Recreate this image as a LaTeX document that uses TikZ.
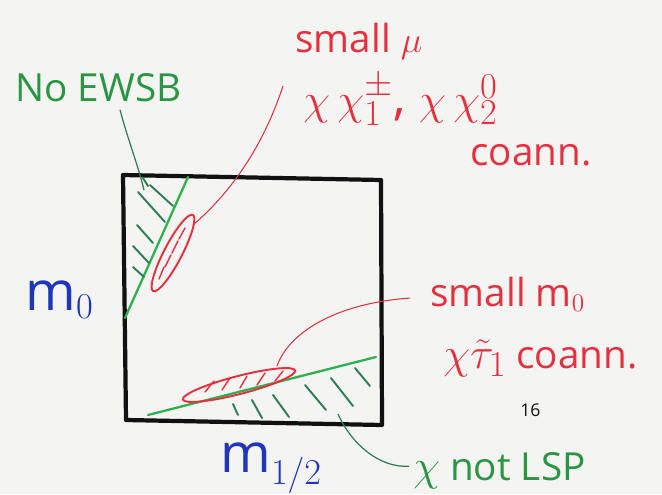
\documentclass[tikz,border=0pt]{standalone}
\usepackage{fontspec}
\setmainfont{Open Sans}
\usetikzlibrary{positioning,calc}
\definecolor{skPaper}{HTML}{F4F4F2}
\definecolor{skInk}{HTML}{111111}
\definecolor{skRed}{HTML}{E5303F}
\definecolor{skGreen}{HTML}{2FB04E}
\definecolor{skHatch}{HTML}{2E7D55}
\definecolor{skBlue}{HTML}{2036B8}

\begin{document}
\begin{tikzpicture}[
  x=0.02cm, y=-0.02cm,
  redlbl/.style={font=\fontsize{22}{26}\selectfont, text=skRed, inner sep=0pt, anchor=base west},
  greenlbl/.style={font=\fontsize{22}{26}\selectfont, text=skGreen!85!black, inner sep=0pt, anchor=base west},
  axlbl/.style={font=\fontsize{31}{34}\selectfont, text=skBlue, inner sep=0pt, anchor=base west},
  frame/.style={draw=skInk, line width=2.4pt, line join=round},
  bound/.style={draw=skGreen, line width=1.3pt, line cap=round},
  hatch/.style={draw=skHatch, line width=1.1pt, line cap=round},
  blob/.style={draw=skRed, line width=1.1pt},
  scrib/.style={draw=skRed, line width=0.8pt, line cap=round},
  redlead/.style={draw=skRed, line width=0.6pt},
  greenlead/.style={draw=skHatch, line width=0.7pt},
]
\fill[skPaper] (0,0) rectangle (662,494);
\useasboundingbox (0,0) rectangle (662,494);

% ── Plane m0 vs m1/2 ─────────────────────────────────────────────────────────
\draw[frame] (123,175) -- (381,180) -- (382,425) -- (126,420) -- cycle;
\node[axlbl] (mzero) at (25,310) {m$_0$};
\node[axlbl] (mhalf) at (220,472) {m$_{1/2}$};

% ── Excluded regions (green boundaries + hatching) ───────────────────────────
\coordinate (ewTop) at (188,177);
\coordinate (ewBot) at (125,318);
\draw[bound] (ewTop) -- (ewBot);
\foreach \xa/\ya/\xb/\yb in {143/178/148/186, 150/185/173/206, 138/192/165/222,
                             137/225/153/243, 133/246/149/263, 133/267/144/277}
  \draw[hatch] (\xa,\ya) -- (\xb,\yb);

\coordinate (lspLeft)  at (148,415);
\coordinate (lspRight) at (376,357);
\draw[bound] (lspLeft) -- (lspRight);
\foreach \xa/\ya/\xb/\yb in {233/404/238/415, 252/400/262/418, 273/395/289/417,
                             305/385/326/410, 331/378/353/406, 355/368/370/386}
  \draw[hatch] (\xa,\ya) -- (\xb,\yb);

% ── Coannihilation strips ────────────────────────────────────────────────────
\draw[blob, rotate around={62.5:(173,253)}] (173,253) ellipse (43 and 9);
\foreach \xa/\ya/\xb/\yb in {159/279/164/267, 165/267/171/255, 172/253/178/241, 179/239/185/228}
  \draw[scrib] (\xa,\ya) -- (\xb,\yb);
\draw[blob, rotate around={14.5:(239,385)}] (239,385) ellipse (58 and 9);
\foreach \xa/\ya/\xb/\yb in {205/392/214/381, 222/390/230/378, 240/388/247/376,
                             257/385/265/373, 275/381/283/371}
  \draw[scrib] (\xa,\ya) -- (\xb,\yb);

% ── Labels ───────────────────────────────────────────────────────────────────
\node[greenlbl] (noewsb) at (15,101) {No EWSB};
\node[redlbl] (smallmu) at (295,52) {small $\mu$};
\node[redlbl, font=\fontsize{29}{31}\selectfont] (charg) at (303,114)
  {$\chi\,\chi^{\pm}_{1}$, $\chi\,\chi^{0}_{2}$};
\node[redlbl] (coannA) at (470,165) {coann.};
\node[redlbl] (smallm) at (430,306) {small m$_0$};
\node[redlbl] (stau) at (443,368) {{\fontsize{28}{30}\selectfont$\chi\tilde{\tau}_{1}$} coann.};
\node[greenlbl] (notlsp) at (413,480) {{\fontsize{28}{30}\selectfont$\chi$} not LSP};
\node[font=\fontsize{10}{12}\selectfont, text=skInk, inner sep=0pt, anchor=base west] (pagenum) at (520,416) {16};

% ── Leaders ──────────────────────────────────────────────────────────────────
\coordinate (muTip)   at (193,225);
\coordinate (stauTip) at (277,366);
\coordinate (lspTip)  at (338,414);
\draw[greenlead] ($(noewsb.south west)+(105,8)$) .. controls (128,140) and (138,165) .. (144,190);
\draw[redlead] (muTip) .. controls (228,195) and (262,150) .. ($(charg.west)+(-20,-14)$);
\draw[redlead] (stauTip) .. controls (290,330) and (340,303) .. ($(smallm.west)+(-20,4)$);
\draw[greenlead] (lspTip) .. controls (352,445) and (380,468) .. ($(notlsp.west)+(-4,-4)$);

\end{tikzpicture}
\end{document}
